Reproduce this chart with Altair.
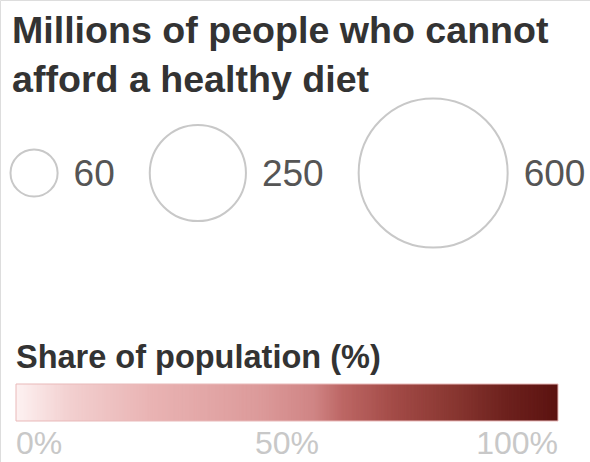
import altair as alt
import numpy as np
import pandas as pd

# ---- content ----
title_lines = ["Millions of people who cannot", "afford a healthy diet"]
size_values = [60, 250, 600]
size_labels = ["60", "250", "600"]
color_title = "Share of population (%)"
color_ticks = [0, 50, 100]
color_tick_labels = ["0%", "50%", "100%"]
color_stops = [0, 10, 25, 45, 55, 60, 70, 80, 90, 100]
color_range = ["#fdf1f1", "#f2cfcf", "#e9b3b3", "#dc9a9a", "#cf8484",
               "#bd6765", "#a24a46", "#8a3832", "#6e221e", "#5b1210"]

# ---- layout ----
W, H = 590, 462
FONT = "Liberation Sans"
MAX_D = 149.0
NUM_FS = 37
CIRCLE_Y = 173
BAR_X0, BAR_X1 = 16, 558
BAR_Y0, BAR_Y1 = 384, 421

diam = [MAX_D * np.sqrt(v / max(size_values)) for v in size_values]
rows = []
cursor = 10.5
for v, lab, d in zip(size_values, size_labels, diam):
    cx = cursor + d / 2
    lx = cursor + d + 16
    rows.append({"value": v, "label": lab, "cx": cx, "lx": lx,
                 "cy": CIRCLE_Y, "ly": CIRCLE_Y + 13})
    cursor = lx + len(lab) * 0.556 * NUM_FS + 35
size_df = pd.DataFrame(rows)

title_df = pd.DataFrame({"text": title_lines + [color_title],
                         "x": [12, 12, 16], "y": [43, 92, 368],
                         "kind": ["main", "main", "sub"]})

step = 0.25
p = np.arange(0, 100, step)
bar_df = pd.DataFrame({"p": p, "p2": np.minimum(p + 2 * step, 100)})
tick_df = pd.DataFrame({"v": color_ticks, "label": color_tick_labels, "y": 454})

px = alt.Scale(domain=[0, W], range=[0, W])
py = alt.Scale(domain=[0, H], range=[0, H])
pct = alt.Scale(domain=[0, 100], range=[BAR_X0, BAR_X1])

main_title = alt.Chart(title_df).transform_filter("datum.kind == 'main'").mark_text(
    align="left", baseline="alphabetic", font=FONT, fontSize=37.6,
    fontWeight="bold", color="#333333"
).encode(x=alt.X("x:Q", scale=px, axis=None),
         y=alt.Y("y:Q", scale=py, axis=None), text="text:N")

sub_title = alt.Chart(title_df).transform_filter("datum.kind == 'sub'").mark_text(
    align="left", baseline="alphabetic", font=FONT, fontSize=32.5,
    fontWeight="bold", color="#333333"
).encode(x=alt.X("x:Q", scale=px, axis=None),
         y=alt.Y("y:Q", scale=py, axis=None), text="text:N")

circles = alt.Chart(size_df).mark_point(
    shape="circle", filled=False, color="#c8c8c8", strokeWidth=2, opacity=1
).encode(
    x=alt.X("cx:Q", scale=px, axis=None),
    y=alt.Y("cy:Q", scale=py, axis=None),
    size=alt.Size("value:Q", scale=alt.Scale(domain=[0, max(size_values)],
                                             range=[0, MAX_D ** 2], zero=True),
                  legend=None),
)

size_text = alt.Chart(size_df).mark_text(
    align="left", baseline="alphabetic", font=FONT, fontSize=NUM_FS, color="#555555"
).encode(x=alt.X("lx:Q", scale=px, axis=None),
         y=alt.Y("ly:Q", scale=py, axis=None), text="label:N")

bar = alt.Chart(bar_df).mark_rect(strokeWidth=0).encode(
    x=alt.X("p:Q", scale=pct, axis=None),
    x2="p2:Q",
    y=alt.Y("y0:Q", scale=py, axis=None),
    y2="y1:Q",
    color=alt.Color("p:Q", scale=alt.Scale(domain=color_stops, range=color_range,
                                           interpolate="rgb"), legend=None),
).transform_calculate(y0=str(BAR_Y0), y1=str(BAR_Y1))

outline = alt.Chart(pd.DataFrame({"a": [0], "b": [100]})).mark_rect(
    fill=None, stroke="#e9b9b9", strokeWidth=1
).encode(
    x=alt.X("a:Q", scale=pct, axis=None), x2="b:Q",
    y=alt.Y("y0:Q", scale=py, axis=None), y2="y1:Q",
).transform_calculate(y0=str(BAR_Y0), y1=str(BAR_Y1))

def tick_layer(flt, align):
    return alt.Chart(tick_df).transform_filter(flt).mark_text(
        align=align, baseline="alphabetic", font=FONT, fontSize=32, color="#c8c8c8"
    ).encode(x=alt.X("v:Q", scale=pct, axis=None),
             y=alt.Y("y:Q", scale=py, axis=None), text="label:N")

ticks = [tick_layer("datum.v == 0", "left"),
         tick_layer("datum.v > 0 && datum.v < 100", "center"),
         tick_layer("datum.v == 100", "right")]

chart = alt.layer(
    main_title, circles, size_text, sub_title, bar, outline, *ticks
).resolve_scale(x="independent", y="independent", color="independent", size="independent").properties(
    width=W, height=H, padding=0, autosize=alt.AutoSizeParams(type="none")
).configure_view(stroke=None).configure(background="white")

chart.save("out.html", embed_options={"renderer": "svg", "actions": False})
